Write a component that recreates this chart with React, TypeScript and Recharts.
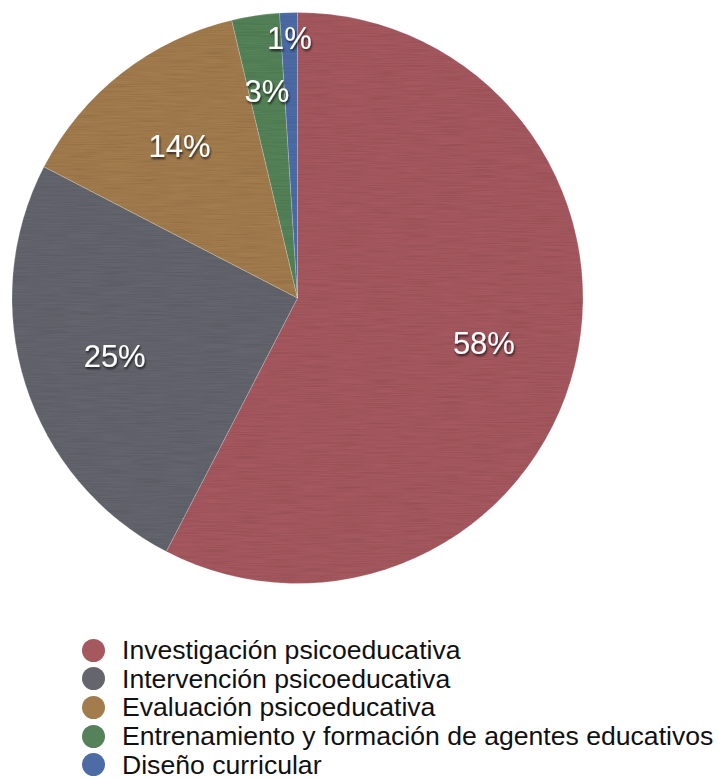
import React from "react";
import { PieChart, Pie, Cell, Legend } from "recharts";

const categories = [
  "Investigación psicoeducativa",
  "Intervención psicoeducativa",
  "Evaluación psicoeducativa",
  "Entrenamiento y formación de agentes educativos",
  "Diseño curricular",
];
const values = [57.6, 25, 13.7, 2.7, 1];
const colors = ["#A5585E", "#64656D", "#A27C4D", "#558258", "#4D6CA6"];

const data = categories.map((name, i) => ({ name, value: values[i] }));

const RADIAN = Math.PI / 180;

const renderLabel = (props: any) => {
  const { cx, cy, midAngle, outerRadius, percent } = props;
  let f = 0.672;
  if (percent < 0.02) f = 0.91;
  else if (percent < 0.05) f = 0.73;
  const r = outerRadius * f;
  const x = cx + r * Math.cos(-midAngle * RADIAN);
  const y = cy + r * Math.sin(-midAngle * RADIAN);
  return (
    <text
      x={x}
      y={y}
      fill="#ffffff"
      textAnchor="middle"
      dominantBaseline="central"
      fontFamily="'Liberation Sans', Arial, Helvetica, sans-serif"
      fontSize={31}
      filter="url(#lblShadow)"
    >
      {`${Math.round(percent * 100)}%`}
    </text>
  );
};

const renderLegend = () => (
  <div style={{ fontFamily: "'Liberation Sans', Arial, Helvetica, sans-serif" }}>
    {data.map((d, i) => (
      <div
        key={d.name}
        style={{ display: "flex", alignItems: "center", height: 28.6 }}
      >
        <div
          style={{
            marginLeft: 82,
            width: 23,
            height: 23,
            borderRadius: "50%",
            background: colors[i],
            flex: "none",
          }}
        />
        <span
          style={{
            marginLeft: 17,
            fontSize: 26.6,
            lineHeight: "24px",
            color: "#111",
            whiteSpace: "nowrap",
          }}
        >
          {d.name}
        </span>
      </div>
    ))}
  </div>
);

export default function App() {
  return (
    <div style={{ width: 718, height: 778, background: "#fff", overflow: "hidden" }}>
      <style>{`body{margin:0;overflow:hidden;}`}</style>
      <PieChart width={718} height={778} margin={{ top: 0, right: 0, bottom: 0, left: 0 }}>
        <defs>
          <filter id="lblShadow" x="-20%" y="-30%" width="140%" height="160%">
            <feDropShadow dx="1" dy="2" stdDeviation="1.2" floodColor="#000" floodOpacity="0.7" />
          </filter>
          <filter id="grain" x="0" y="0" width="100%" height="100%">
            <feTurbulence type="fractalNoise" baseFrequency="0.03 0.9" numOctaves="2" seed="4" result="n" />
            <feColorMatrix
              in="n"
              type="matrix"
              values="0 0 0 0 0  0 0 0 0 0  0 0 0 0 0  0.35 0 0 0 -0.12"
              result="dark"
            />
            <feComposite in="dark" in2="SourceGraphic" operator="in" result="darkc" />
            <feMerge>
              <feMergeNode in="SourceGraphic" />
              <feMergeNode in="darkc" />
            </feMerge>
          </filter>
        </defs>
        <Pie
          data={data}
          dataKey="value"
          nameKey="name"
          cx={297.5}
          cy={298}
          outerRadius={285.5}
          startAngle={90}
          endAngle={-270}
          stroke="rgba(255,255,255,0.35)"
          strokeWidth={0.6}
          label={renderLabel}
          labelLine={false}
          isAnimationActive={false}
        >
          {data.map((d, i) => (
            <Cell key={d.name} fill={colors[i]} filter="url(#grain)" />
          ))}
        </Pie>
        <Legend
          content={renderLegend}
          wrapperStyle={{ position: "absolute", left: 0, top: 636, width: 718 }}
        />
      </PieChart>
    </div>
  );
}
